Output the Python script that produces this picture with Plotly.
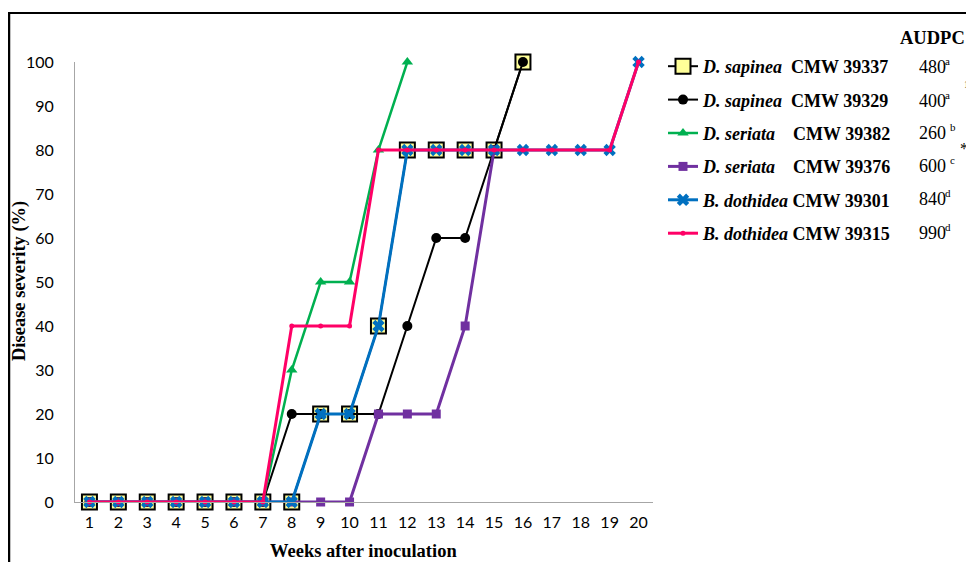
import plotly.graph_objects as go

weeks = list(range(1, 21))

names = [
    "<b><i>D. sapinea</i></b>\u00a0\u00a0<b>CMW 39337</b>",
    "<b><i>D. sapinea</i></b>\u00a0\u00a0<b>CMW 39329</b>",
    "<b><i>D. seriata</i></b>\u00a0\u00a0\u00a0\u00a0<b>CMW 39382</b>",
    "<b><i>D. seriata</i></b>\u00a0\u00a0\u00a0\u00a0<b>CMW 39376</b>",
    "<b><i>B. dothidea</i></b>\u00a0<b>CMW 39301</b>",
    "<b><i>B. dothidea</i></b>\u00a0<b>CMW 39315</b>",
]
audpc_values = ["480", "400", "260", "600", "840", "990"]
audpc_letters = ["a", "a", "b", "c", "d", "d"]

sap_39337 = [0, 0, 0, 0, 0, 0, 0, 0, 20, 20, 40, 80, 80, 80, 80, 100]
sap_39329 = [0, 0, 0, 0, 0, 0, 0, 20, 20, 20, 20, 40, 60, 60, 80, 100]
ser_39382 = [0, 0, 0, 0, 0, 0, 0, 30, 50, 50, 80, 100]
ser_39376 = [0, 0, 0, 0, 0, 0, 0, 0, 0, 0, 20, 20, 20, 40, 80]
dot_39301 = [0, 0, 0, 0, 0, 0, 0, 0, 20, 20, 40, 80, 80, 80, 80, 80, 80, 80, 80, 100]
dot_39315 = [0, 0, 0, 0, 0, 0, 0, 40, 40, 40, 80, 80, 80, 80, 80, 80, 80, 80, 80, 100]

series = [sap_39337, sap_39329, ser_39382, ser_39376, dot_39301, dot_39315]
styles = [
    dict(line=dict(color="black", width=2),
         marker=dict(symbol="square", size=15, color="#FFFF99", line=dict(color="black", width=2))),
    dict(line=dict(color="black", width=2),
         marker=dict(symbol="circle", size=10, color="black")),
    dict(line=dict(color="#00B050", width=2.5),
         marker=dict(symbol="triangle-up", size=10, color="#00B050")),
    dict(line=dict(color="#7030A0", width=3),
         marker=dict(symbol="square", size=9, color="#7030A0")),
    dict(line=dict(color="#0070C0", width=3),
         marker=dict(symbol="x", size=11, color="#0070C0")),
    dict(line=dict(color="#FF0066", width=3),
         marker=dict(symbol="circle", size=5, color="#FF0066")),
]

fig = go.Figure()
for i, (nm, ys, st) in enumerate(zip(names, series, styles)):
    fig.add_trace(go.Scatter(
        x=weeks[:len(ys)], y=ys, name=nm, mode="lines+markers",
        line=st["line"], marker=st["marker"], cliponaxis=False,
        legendgroup=f"g{i}",
    ))

# page body has an 8px margin: figure coords = screen coords - 8
OFF = 8
W, H = 974 - OFF, 562 - OFF
PL, PR, PT, PB = 75, 653, 62, 502  # plot area in screen px
L, R, T, B = PL - OFF, W - (PR - OFF), PT - OFF, H - (PB - OFF)
pw, ph = PR - PL, PB - PT


def px(x):
    return (x - PL) / pw


def py(y):
    return (PB - y) / ph


SERIF = "Liberation Serif"


def ann(text, x, y, size, xa="center", ya="middle", angle=0):
    return dict(text=text, x=px(x), y=py(y), xref="paper", yref="paper",
                xanchor=xa, yanchor=ya, showarrow=False, textangle=angle,
                font=dict(family=SERIF, size=size, color="black"))


annotations = [
    ann("<b>Weeks after inoculation</b>", 363, 551, 18.5),
    ann("<b>Disease severity (%)</b>", 19, 281, 18.5, angle=-90),
    ann("<b>AUDPC</b>", 932, 38, 18.5),
    ann("1", 966, 84, 10),
    ann("*", 964, 148, 16),
]
row_y = [67, 101, 133, 166, 199, 233]
sup_x = [943, 943, 948, 948, 943, 943]
for v, let, ry, sx in zip(audpc_values, audpc_letters, row_y, sup_x):
    annotations.append(ann(v, 917, ry, 18, xa="left"))
    annotations.append(ann(let, sx, ry - 6, 11, xa="left"))

shapes = [
    dict(type="line", xref="paper", yref="paper", x0=px(9), x1=px(9), y0=py(12), y1=py(575),
         line=dict(color="black", width=2.5)),
    dict(type="line", xref="paper", yref="paper", x0=px(8), x1=px(990), y0=py(13), y1=py(13),
         line=dict(color="black", width=2)),
]

fig.update_layout(
    width=W, height=H,
    margin=dict(l=L, r=R, t=T, b=B, autoexpand=False),
    paper_bgcolor="white", plot_bgcolor="white",
    showlegend=True,
    legend=dict(x=px(663), y=py(48), xanchor="left", yanchor="top",
                font=dict(family=SERIF, size=18, color="black"),
                tracegroupgap=7, bgcolor="rgba(0,0,0,0)"),
    xaxis=dict(range=[0.5, 20.5], tickmode="array", tickvals=weeks, ticks="",
               showgrid=False, zeroline=False, showline=True, linecolor="#A6A6A6", linewidth=1,
               tickfont=dict(family="Lato", size=16, color="black"), ticklabelstandoff=6),
    yaxis=dict(range=[0, 100], tickmode="array", tickvals=list(range(0, 101, 10)), ticks="",
               showgrid=False, zeroline=False, showline=True, linecolor="#A6A6A6", linewidth=1,
               tickfont=dict(family="Lato", size=16, color="black"), ticklabelstandoff=17),
    annotations=annotations,
    shapes=shapes,
)

fig.write_html("out.html")
